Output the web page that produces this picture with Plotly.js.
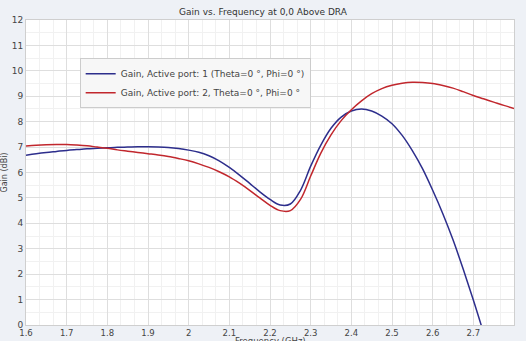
<!DOCTYPE html>
<html>
<head>
<meta charset="utf-8">
<script src="https://cdn.plot.ly/plotly-3.0.1.min.js"></script>
<style>html,body{margin:0;padding:0;background:#eef1f6;}#chart{width:526px;height:341px;}</style>
</head>
<body>
<div id="chart"></div>
<script>
const freq = [1.6,1.625,1.65,1.675,1.7,1.725,1.75,1.775,1.8,1.825,1.85,1.875,1.9,1.925,1.95,1.975,2.0,2.025,2.05,2.075,2.1,2.125,2.15,2.175,2.2,2.225,2.25,2.275,2.3,2.325,2.35,2.375,2.4,2.425,2.45,2.475,2.5,2.525,2.55,2.575,2.6,2.625,2.65,2.675,2.7,2.725,2.75,2.775,2.8];
const gainBlue = [6.68,6.74,6.79,6.83,6.87,6.90,6.93,6.95,6.97,6.99,7.0,7.01,7.01,7.0,6.98,6.94,6.88,6.80,6.66,6.46,6.2,5.9,5.57,5.24,4.94,4.72,4.76,5.3,6.25,7.08,7.74,8.18,8.42,8.5,8.42,8.22,7.92,7.46,6.86,6.15,5.3,4.38,3.35,2.2,0.98,-0.3,null,null,null];
const gainRed = [7.04,7.07,7.09,7.10,7.10,7.08,7.05,7.0,6.95,6.89,6.84,6.79,6.74,6.69,6.63,6.55,6.46,6.34,6.2,6.03,5.83,5.58,5.3,5.0,4.71,4.5,4.5,4.94,5.86,6.76,7.48,8.04,8.47,8.82,9.1,9.3,9.43,9.51,9.55,9.54,9.5,9.42,9.32,9.18,9.03,8.9,8.77,8.64,8.52];
const nameBlue = 'Gain, Active port: 1 (Theta=0 °, Phi=0 °)';
const nameRed = 'Gain, Active port: 2, Theta=0 °, Phi=0 °';
const xTicks = [1.6,1.7,1.8,1.9,2.0,2.1,2.2,2.3,2.4,2.5,2.6,2.7];
const xTickText = ['1.6','1.7','1.8','1.9','2','2.1','2.2','2.3','2.4','2.5','2.6','2.7'];

const traces = [
  {x: freq, y: gainBlue, name: nameBlue, mode: 'lines', connectgaps: false, line: {color: '#2d2e8c', width: 1.5, shape: 'spline', smoothing: 1}},
  {x: freq, y: gainRed, name: nameRed, mode: 'lines', line: {color: '#c1272d', width: 1.5, shape: 'spline', smoothing: 1}}
];
const layout = {
  width: 526, height: 341,
  paper_bgcolor: '#eef1f6', plot_bgcolor: '#ffffff',
  margin: {l: 26, r: 12, t: 20, b: 16},
  font: {family: 'DejaVu Sans, sans-serif', size: 9, color: '#444'},
  title: {text: 'Gain vs. Frequency at 0,0 Above DRA', font: {size: 9, color: '#333'}, x: 0.5, xanchor: 'center', y: 0.965, yanchor: 'middle'},
  showlegend: true,
  legend: {x: 0.11, y: 0.875, xanchor: 'left', yanchor: 'top', bgcolor: '#f7f7f7', bordercolor: '#cccccc', borderwidth: 1, font: {size: 9, color: '#444'}, tracegroupgap: 0},
  xaxis: {
    range: [1.6, 2.8], tickvals: xTicks, ticktext: xTickText, ticks: '', ticklen: 0,
    showgrid: true, gridcolor: '#dedede', gridwidth: 1, zeroline: false,
    showline: true, linecolor: '#cfcfcf', mirror: true,
    minor: {dtick: 0.1/3, tick0: 1.6, showgrid: true, gridcolor: '#f1f1f1'},
    tickfont: {size: 8.5, color: '#444'}, automargin: false
  },
  yaxis: {
    range: [0, 12], dtick: 1, ticks: '', showgrid: true, gridcolor: '#dedede', zeroline: false,
    showline: true, linecolor: '#cfcfcf', mirror: true,
    minor: {dtick: 0.5, showgrid: true, gridcolor: '#f1f1f1'},
    tickfont: {size: 9, color: '#444'}, automargin: false,
    title: {text: 'Gain (dBi)', font: {size: 8, color: '#444'}, standoff: 4}
  },
  annotations: [
    {text: 'Frequency (GHz)', xref: 'paper', yref: 'paper', x: 0.5, y: -0.03, xanchor: 'center', yanchor: 'top', showarrow: false, font: {size: 8.5, color: '#444'}}
  ]
};
Plotly.newPlot('chart', traces, layout, {displayModeBar: false, staticPlot: true});
</script>
</body>
</html>
